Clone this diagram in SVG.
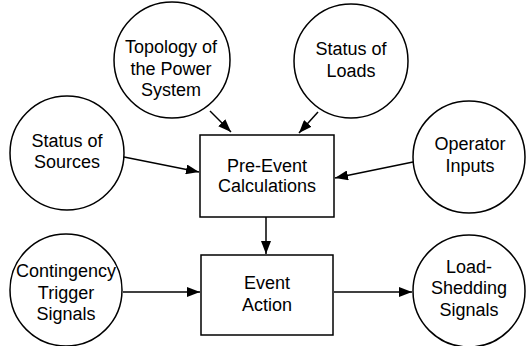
<svg xmlns="http://www.w3.org/2000/svg" width="526" height="346" viewBox="0 0 526 346">
<style>
.n{fill:#fff;stroke:#000;stroke-width:1.5}
.t{font-family:"Liberation Sans",Arial,sans-serif;font-size:18px;fill:#000;text-anchor:middle}
.c{stroke:#000;stroke-width:1.5;fill:none;marker-end:url(#ah)}
</style>
<defs>
<marker id="ah" markerUnits="userSpaceOnUse" markerWidth="14" markerHeight="10" refX="13" refY="5" orient="auto">
<path d="M0,0 L13,5 L0,10 Z" fill="#000"/>
</marker>
</defs>
<rect width="526" height="346" fill="#fff"/>
<g id="connectors">
<line class="c" x1="210" y1="111" x2="231" y2="132"/>
<line class="c" x1="318" y1="112" x2="299" y2="133"/>
<line class="c" x1="124" y1="157" x2="199" y2="172"/>
<line class="c" x1="413" y1="162" x2="335" y2="178"/>
<line class="c" x1="266" y1="217" x2="266" y2="254"/>
<line class="c" x1="123" y1="292" x2="200" y2="292"/>
<line class="c" x1="334" y1="292" x2="412" y2="292"/>
</g>
<g id="topology">
<circle class="n" cx="172" cy="60" r="58"/>
<text class="t" x="171" y="53">Topology of</text>
<text class="t" x="171" y="75">the Power</text>
<text class="t" x="171" y="96">System</text>
</g>
<g id="loads">
<circle class="n" cx="351" cy="61" r="57"/>
<text class="t" x="351" y="55">Status of</text>
<text class="t" x="351" y="77">Loads</text>
</g>
<g id="sources">
<circle class="n" cx="67" cy="153" r="57"/>
<text class="t" x="67" y="147">Status of</text>
<text class="t" x="67" y="168">Sources</text>
</g>
<g id="operator">
<circle class="n" cx="469" cy="157" r="56"/>
<text class="t" x="470" y="150">Operator</text>
<text class="t" x="470" y="172">Inputs</text>
</g>
<g id="preevent">
<rect class="n" x="200" y="135" width="134" height="82"/>
<text class="t" x="267" y="172">Pre-Event</text>
<text class="t" x="267" y="192">Calculations</text>
</g>
<g id="eventaction">
<rect class="n" x="201" y="255" width="132" height="80"/>
<text class="t" x="267" y="289">Event</text>
<text class="t" x="267" y="311">Action</text>
</g>
<g id="contingency">
<circle class="n" cx="66" cy="290" r="56"/>
<text class="t" x="66" y="277">Contingency</text>
<text class="t" x="66" y="299">Trigger</text>
<text class="t" x="66" y="320">Signals</text>
</g>
<g id="loadshedding">
<circle class="n" cx="469" cy="291" r="56"/>
<text class="t" x="469" y="273">Load-</text>
<text class="t" x="469" y="294">Shedding</text>
<text class="t" x="469" y="316">Signals</text>
</g>
</svg>
